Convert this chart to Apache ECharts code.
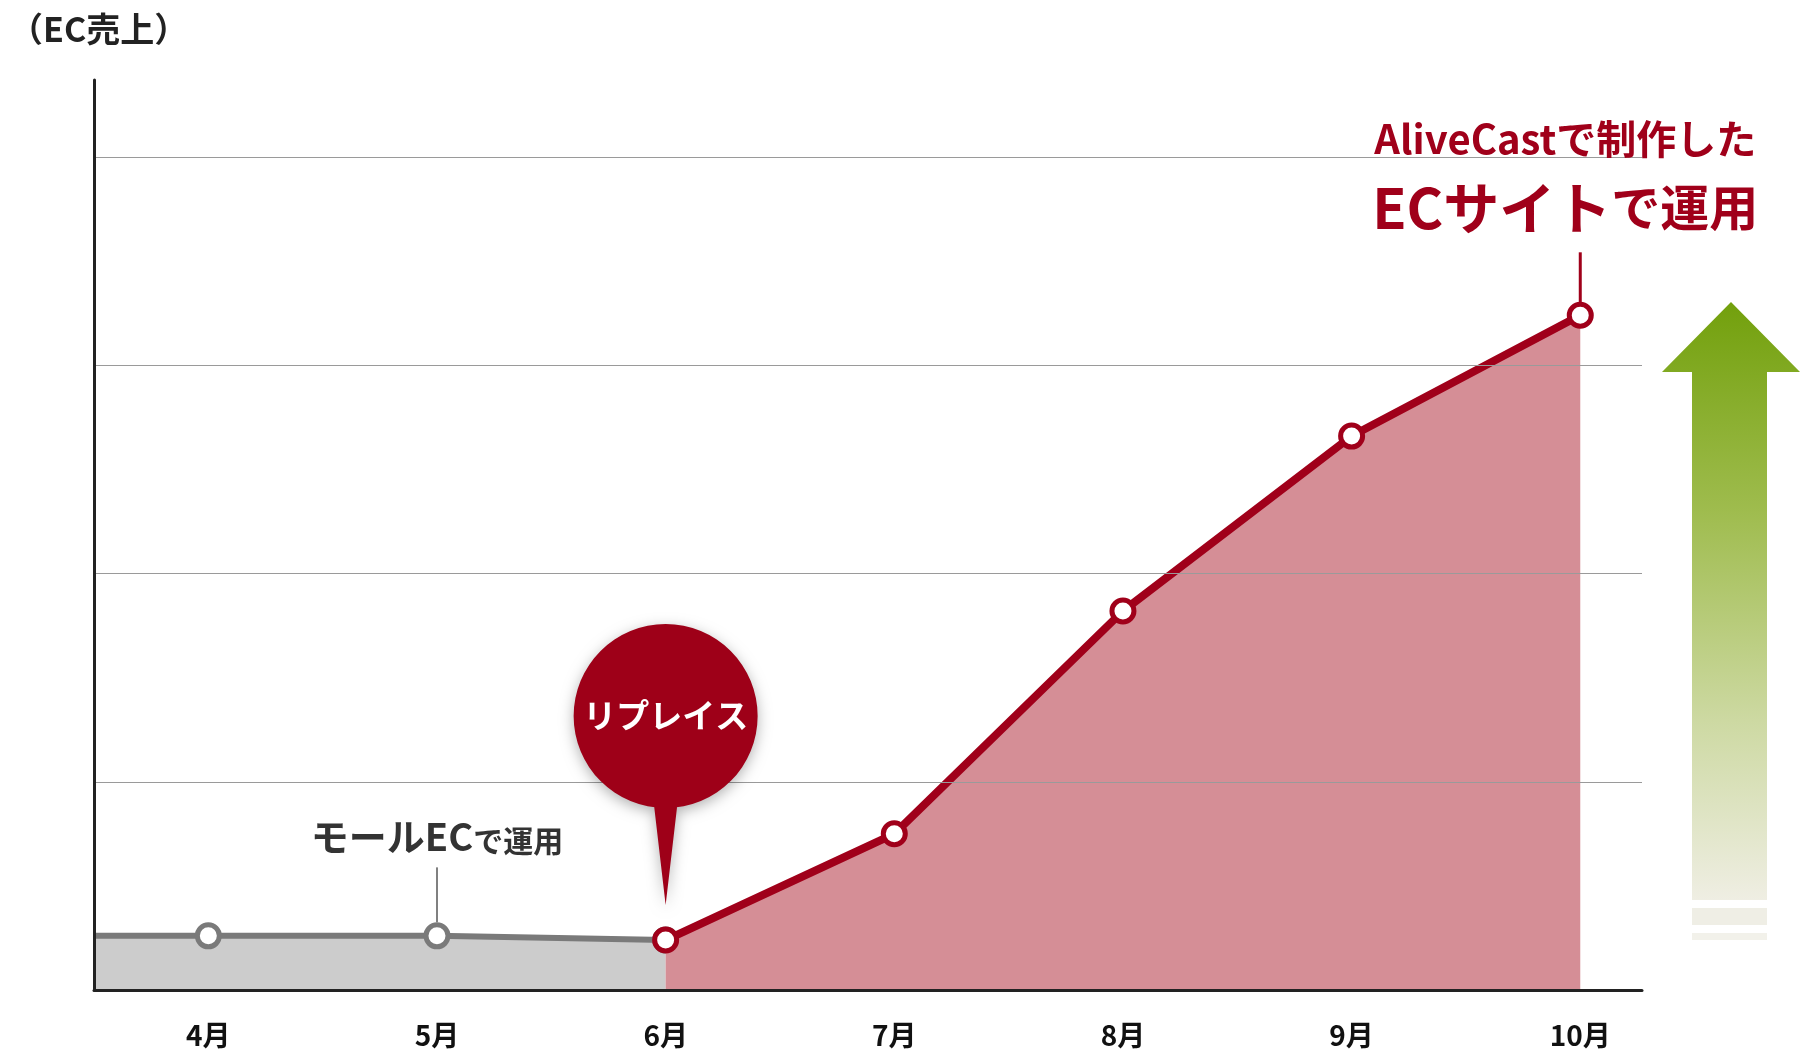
<!DOCTYPE html>
<html><head><meta charset="utf-8">
<script src="https://cdn.jsdelivr.net/npm/echarts@6/dist/echarts.min.js"></script>
<style>html,body{margin:0;padding:0;background:#fff}#c{width:1803px;height:1054px}</style>
</head><body><div id="c"></div>
<script>
// ---- data ----
const months = ['4月','5月','6月','7月','8月','9月','10月'];
const monthIndex = [0,1,2,3,4,5,6];
const mallValues = [26, 26, 24];                 // 4月〜6月 (モールEC)
const aliveValues = [24, 75, 182, 266, 324];     // 6月〜10月 (AliveCast)
const mallLeadIn = 26;                            // line continues to the left edge
const gridValues = [100, 200, 300, 400];
const yMax = 437;
const xMin = -0.5, xMax = 6.27;

const FF = "'Noto Sans CJK JP','Noto Sans',sans-serif";
const RED = '#a0001a';

const mallData = [{value: [xMin, mallLeadIn], symbol: 'none'}]
  .concat(monthIndex.slice(0, 3).map((m, k) => [m, mallValues[k]]));
const aliveData = monthIndex.slice(2).map((m, k) => [m, aliveValues[k]]);

const chart = echarts.init(document.getElementById('c'), null, {renderer: 'canvas'});
chart.setOption({
  animation: false,
  backgroundColor: '#fff',
  title: {
    text: '（EC売上）', left: 4, top: 7,
    textStyle: {fontFamily: FF, fontSize: 34, fontWeight: 'bold', color: '#222'}
  },
  grid: {left: 94, right: 161, top: 80, bottom: 64, containLabel: false},
  xAxis: {
    type: 'value', min: xMin, max: xMax, z: 10,
    axisLine: {show: true, onZero: false, lineStyle: {color: '#222', width: 3}},
    axisTick: {show: false},
    splitLine: {show: false},
    axisLabel: {
      customValues: monthIndex,
      formatter: v => months[v],
      margin: 31, fontFamily: FF, fontSize: 28, fontWeight: 'bold', color: '#111'
    }
  },
  yAxis: {
    type: 'value', min: 0, max: yMax, z: 10,
    axisLine: {show: true, onZero: false, lineStyle: {color: '#222', width: 3}},
    axisTick: {show: false}, axisLabel: {show: false}, splitLine: {show: false}
  },
  graphic: [
    {
      type: 'polygon', z: 1,
      shape: {points: [[1731,302],[1800,372],[1767,372],[1767,900],[1692,900],[1692,372],[1662,372]]},
      style: {fill: new echarts.graphic.LinearGradient(0, 0, 0, 1, [
        {offset: 0, color: '#72a00c'},
        {offset: 0.35, color: '#9fbc4e'},
        {offset: 0.7, color: '#cdd9a2'},
        {offset: 1, color: '#efeee3'}
      ])}
    },
    {type: 'rect', z: 1, shape: {x: 1692, y: 908, width: 75, height: 17}, style: {fill: '#efeee5'}},
    {type: 'rect', z: 1, shape: {x: 1692, y: 933, width: 75, height: 7}, style: {fill: '#f2f1ea'}}
  ],
  series: [
    {
      type: 'line', z: 2, data: mallData,
      symbol: 'circle', symbolSize: 22,
      itemStyle: {color: '#fff', borderColor: '#7a7a7a', borderWidth: 5},
      lineStyle: {color: '#7a7a7a', width: 6},
      areaStyle: {color: '#cccccc', opacity: 1},
      markLine: {
        silent: true, symbol: ['none', 'none'], label: {show: false},
        lineStyle: {color: '#9a9a9a', width: 1, type: 'solid'},
        data: gridValues.map(v => ({yAxis: v}))
      },
      markPoint: {
        silent: true,
        data: [{
          coord: [monthIndex[1], mallValues[1]],
          symbol: 'rect', symbolSize: [2, 55], symbolOffset: [0, -41],
          itemStyle: {color: '#808080'},
          label: {
            show: true, position: 'top', distance: 12,
            formatter: '{a|モールEC}{b|で運用}',
            rich: {
              a: {fontFamily: FF, fontSize: 38, fontWeight: 'bold', color: '#333', verticalAlign: 'bottom'},
              b: {fontFamily: FF, fontSize: 30, fontWeight: 'bold', color: '#333', verticalAlign: 'bottom'}
            }
          }
        }]
      }
    },
    {
      type: 'line', z: 3, data: aliveData,
      symbol: 'circle', symbolSize: 22,
      itemStyle: {color: '#fff', borderColor: RED, borderWidth: 5},
      lineStyle: {color: RED, width: 8},
      areaStyle: {color: '#d58e96', opacity: 1},
      markPoint: {
        silent: true,
        data: [
          {
            coord: [monthIndex[6], aliveValues[4]],
            symbol: 'rect', symbolSize: [3, 50], symbolOffset: [0, -38],
            itemStyle: {color: RED},
            label: {
              show: true, position: 'top', distance: 8, offset: [-15, 0],
              formatter: '{a|AliveCastで制作した}\n{b|ECサイト}{c|で運用}',
              rich: {
                a: {fontFamily: FF, fontSize: 40, fontWeight: 'bold', color: RED, lineHeight: 64},
                b: {fontFamily: FF, fontSize: 56, fontWeight: 'bold', color: RED, lineHeight: 74},
                c: {fontFamily: FF, fontSize: 49, fontWeight: 'bold', color: RED, lineHeight: 74}
              }
            }
          },
          {
            coord: [monthIndex[2], aliveValues[0]],
            symbol: 'path://M92,0 A92,92 0 1,1 92,184 A92,92 0 1,1 92,0 Z M104,178 L92,281 L80,178 Z',
            symbolSize: [184, 281], symbolOffset: [0, -175.5],
            itemStyle: {color: '#9e0018', shadowBlur: 14, shadowColor: 'rgba(0,0,0,0.3)', shadowOffsetY: 4},
            label: {
              show: true, position: 'inside', offset: [0, -49.5],
              formatter: 'リプレイス',
              fontFamily: FF, fontSize: 33, fontWeight: 'bold', color: '#fff'
            }
          }
        ]
      }
    }
  ]
});
</script>
</body></html>
